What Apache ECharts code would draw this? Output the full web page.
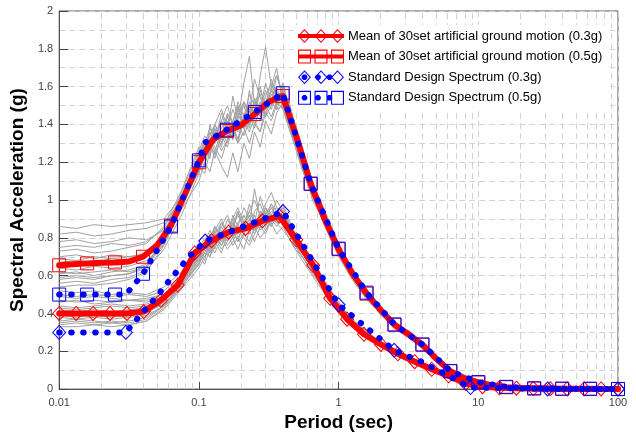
<!DOCTYPE html>
<html>
<head>
<meta charset="utf-8">
<script src="https://cdn.jsdelivr.net/npm/echarts@6/dist/echarts.min.js"></script>
<style>
  html, body { margin: 0; padding: 0; background: #fff; }
  #chart { width: 636px; height: 437px; }
</style>
</head>
<body>
<div id="chart"></div>
<script>
// Periods (sec) at which each artificial record's response spectrum is sampled
const recordPeriods = [0.01, 0.0133, 0.0178, 0.0237, 0.0316, 0.0422, 0.0562, 0.075,
  0.1, 0.11, 0.12, 0.13, 0.145, 0.16, 0.175, 0.19, 0.21, 0.23, 0.25, 0.275, 0.3, 0.33, 0.36, 0.4, 0.44, 0.49, 0.55,
  0.65, 0.8, 1.0, 1.25, 1.6, 2.0, 2.5, 3.2, 4.0, 5.0, 6.3, 8.0, 10, 20, 100];

// Spectral acceleration (g) of individual records scaled to 0.5g
const records05 = [
  [0.86,0.85,0.87,0.86,0.87,0.88,0.90,1.02, 1.20,1.28,1.24,1.36,1.30,1.42,1.35,1.48,1.40,1.52,1.44,1.58,1.50,1.64,1.55,1.58,1.45,1.34,1.22, 1.05,0.92,0.76,0.62,0.52,0.43,0.35,0.30,0.24,0.17,0.10,0.06,0.035,0.009,0.002],
  [0.82,0.83,0.81,0.82,0.84,0.85,0.88,1.00, 1.16,1.24,1.30,1.22,1.34,1.28,1.40,1.32,1.46,1.38,1.54,1.48,1.62,1.52,1.60,1.48,1.38,1.28,1.16, 1.02,0.88,0.74,0.60,0.50,0.41,0.34,0.28,0.23,0.16,0.09,0.055,0.03,0.008,0.002],
  [0.78,0.79,0.77,0.78,0.80,0.79,0.84,0.98, 1.15,1.30,1.22,1.38,1.28,1.45,1.33,1.50,1.38,1.58,1.42,1.66,1.81,1.60,1.70,1.52,1.40,1.30,1.18, 1.10,0.88,0.78,0.60,0.53,0.40,0.36,0.28,0.25,0.15,0.09,0.055,0.03,0.008,0.002],
  [0.75,0.76,0.75,0.77,0.76,0.78,0.85,1.02, 1.24,1.30,1.26,1.40,1.48,1.38,1.32,1.44,1.52,1.46,1.64,1.54,1.48,1.58,1.66,1.56,1.46,1.34,1.22, 1.06,0.90,0.75,0.62,0.51,0.42,0.35,0.29,0.23,0.16,0.10,0.06,0.035,0.009,0.002],
  [0.73,0.74,0.72,0.73,0.75,0.77,0.86,1.05, 1.28,1.22,1.40,1.30,1.46,1.36,1.55,1.42,1.62,1.76,1.50,1.60,1.48,1.56,1.50,1.60,1.50,1.38,1.26, 1.06,0.90,0.72,0.64,0.49,0.44,0.33,0.31,0.22,0.16,0.10,0.06,0.035,0.008,0.002],
  [0.70,0.71,0.69,0.71,0.70,0.72,0.78,0.95, 1.10,1.20,1.15,1.26,1.18,1.12,1.25,1.15,1.30,1.22,1.36,1.28,1.42,1.35,1.46,1.52,1.40,1.28,1.16, 1.02,0.86,0.70,0.58,0.47,0.40,0.32,0.27,0.21,0.15,0.09,0.055,0.03,0.008,0.002],
  [0.69,0.68,0.70,0.69,0.70,0.71,0.79,0.97, 1.16,1.22,1.32,1.28,1.22,1.32,1.40,1.30,1.36,1.48,1.42,1.36,1.50,1.44,1.52,1.48,1.40,1.30,1.20, 1.04,0.88,0.73,0.60,0.49,0.41,0.34,0.28,0.22,0.155,0.09,0.055,0.03,0.008,0.002],
  [0.67,0.68,0.67,0.69,0.68,0.70,0.80,1.00, 1.24,1.32,1.28,1.35,1.42,1.34,1.40,1.46,1.38,1.44,1.52,1.46,1.55,1.62,1.54,1.58,1.48,1.36,1.24, 1.08,0.92,0.75,0.63,0.50,0.41,0.35,0.29,0.23,0.16,0.10,0.06,0.035,0.009,0.002],
  [0.64,0.63,0.65,0.64,0.65,0.68,0.76,0.96, 1.18,1.26,1.36,1.30,1.38,1.44,1.36,1.30,1.44,1.50,1.40,1.48,1.58,1.50,1.66,1.54,1.44,1.32,1.20, 1.04,0.86,0.72,0.60,0.48,0.41,0.33,0.28,0.22,0.15,0.09,0.055,0.03,0.008,0.002],
  [0.62,0.61,0.62,0.63,0.62,0.65,0.77,0.99, 1.22,1.30,1.38,1.32,1.42,1.50,1.40,1.52,1.44,1.56,1.50,1.44,1.52,1.58,1.50,1.62,1.50,1.38,1.26, 1.08,0.92,0.76,0.62,0.51,0.43,0.35,0.30,0.24,0.165,0.10,0.06,0.035,0.009,0.002],
  [0.61,0.62,0.60,0.62,0.63,0.66,0.78,1.00, 1.22,1.18,1.30,1.40,1.32,1.38,1.48,1.40,1.34,1.42,1.48,1.56,1.46,1.52,1.48,1.56,1.52,1.40,1.28, 1.10,0.94,0.77,0.61,0.51,0.43,0.35,0.30,0.24,0.17,0.10,0.06,0.035,0.009,0.002],
  [0.59,0.60,0.59,0.60,0.61,0.64,0.79,1.01, 1.18,1.14,1.26,1.34,1.26,1.32,1.38,1.32,1.42,1.36,1.44,1.52,1.44,1.50,1.56,1.52,1.44,1.32,1.20, 1.04,0.89,0.74,0.61,0.50,0.42,0.34,0.29,0.23,0.16,0.095,0.058,0.033,0.008,0.002],
  [0.58,0.59,0.58,0.60,0.61,0.65,0.82,1.04, 1.26,1.34,1.30,1.24,1.34,1.40,1.32,1.44,1.50,1.40,1.46,1.42,1.52,1.48,1.58,1.50,1.42,1.30,1.18, 1.00,0.87,0.73,0.59,0.49,0.39,0.34,0.28,0.23,0.16,0.09,0.055,0.03,0.008,0.002],
  [0.56,0.57,0.56,0.58,0.59,0.63,0.74,0.92, 1.14,1.24,1.32,1.26,1.36,1.30,1.42,1.50,1.38,1.30,1.40,1.36,1.46,1.42,1.50,1.56,1.46,1.34,1.22, 1.06,0.90,0.74,0.62,0.50,0.42,0.34,0.29,0.23,0.16,0.10,0.06,0.035,0.009,0.002],
  [0.54,0.55,0.55,0.56,0.58,0.62,0.76,0.98, 1.20,1.28,1.34,1.40,1.34,1.46,1.40,1.36,1.52,1.44,1.38,1.50,1.44,1.60,1.48,1.50,1.46,1.36,1.26, 1.08,0.91,0.73,0.61,0.51,0.42,0.36,0.29,0.24,0.16,0.10,0.06,0.035,0.009,0.002]
];

// Spectral acceleration (g) of individual records scaled to 0.3g
const records03 = [
  [0.52,0.51,0.52,0.50,0.51,0.50,0.54,0.62, 0.74,0.80,0.76,0.86,0.80,0.90,0.84,0.94,0.86,0.98,0.88,1.02,0.92,0.98,0.94,0.96,0.88,0.80,0.74, 0.66,0.55,0.44,0.37,0.30,0.25,0.205,0.17,0.14,0.105,0.07,0.035,0.016,0.006,0.002],
  [0.50,0.49,0.50,0.49,0.50,0.49,0.52,0.60, 0.70,0.76,0.82,0.78,0.88,0.82,0.90,0.96,0.88,0.94,1.00,0.92,0.98,1.04,0.96,0.94,0.88,0.80,0.74, 0.66,0.55,0.45,0.36,0.30,0.25,0.20,0.17,0.14,0.105,0.07,0.034,0.016,0.006,0.002],
  [0.49,0.48,0.49,0.48,0.47,0.48,0.50,0.60, 0.72,0.68,0.80,0.74,0.84,0.78,0.88,0.82,0.92,0.86,1.06,0.90,0.96,0.92,1.00,0.94,0.86,0.78,0.72, 0.65,0.56,0.46,0.36,0.31,0.24,0.20,0.16,0.135,0.10,0.065,0.03,0.015,0.006,0.002],
  [0.47,0.46,0.47,0.46,0.47,0.47,0.50,0.59, 0.72,0.78,0.74,0.80,0.76,0.84,0.80,0.86,0.82,0.88,0.84,0.90,0.86,0.92,0.88,0.92,0.86,0.78,0.72, 0.64,0.54,0.44,0.35,0.29,0.24,0.20,0.165,0.135,0.10,0.066,0.033,0.015,0.006,0.002],
  [0.46,0.47,0.45,0.46,0.47,0.46,0.49,0.58, 0.70,0.78,0.84,0.78,0.72,0.82,0.76,0.80,0.74,0.84,0.78,0.86,0.82,0.90,0.86,0.92,0.84,0.76,0.70, 0.62,0.52,0.42,0.34,0.28,0.24,0.19,0.16,0.13,0.10,0.065,0.032,0.015,0.006,0.002],
  [0.44,0.43,0.44,0.45,0.44,0.45,0.48,0.57, 0.68,0.74,0.70,0.80,0.86,0.80,0.92,0.86,0.96,0.90,0.84,0.94,0.88,0.98,0.90,0.94,0.88,0.82,0.76, 0.67,0.56,0.45,0.36,0.29,0.25,0.20,0.17,0.14,0.10,0.07,0.035,0.016,0.006,0.002],
  [0.43,0.42,0.43,0.44,0.43,0.44,0.48,0.58, 0.71,0.66,0.74,0.80,0.74,0.78,0.84,0.78,0.82,0.88,0.82,0.90,0.96,0.88,0.92,0.88,0.82,0.76,0.70, 0.61,0.52,0.42,0.34,0.28,0.23,0.19,0.16,0.13,0.097,0.063,0.031,0.014,0.005,0.002],
  [0.42,0.41,0.42,0.41,0.42,0.43,0.47,0.56, 0.66,0.72,0.78,0.84,0.76,0.82,0.88,0.80,0.86,0.92,0.84,0.88,0.94,0.86,0.92,0.88,0.82,0.76,0.72, 0.63,0.53,0.43,0.35,0.29,0.23,0.19,0.16,0.135,0.10,0.068,0.034,0.016,0.006,0.002],
  [0.40,0.39,0.40,0.39,0.40,0.41,0.45,0.55, 0.70,0.76,0.82,0.76,0.86,0.92,0.84,0.78,0.88,0.82,0.94,0.98,0.90,0.94,0.96,0.90,0.84,0.78,0.74, 0.64,0.53,0.44,0.34,0.28,0.24,0.20,0.165,0.14,0.105,0.07,0.034,0.016,0.006,0.002],
  [0.39,0.38,0.39,0.38,0.39,0.40,0.46,0.57, 0.69,0.78,0.72,0.84,0.90,0.82,0.86,0.94,0.84,0.90,0.86,0.94,0.90,0.86,0.92,0.96,0.88,0.80,0.75, 0.66,0.55,0.45,0.36,0.29,0.245,0.20,0.17,0.14,0.105,0.07,0.035,0.016,0.006,0.002],
  [0.38,0.37,0.38,0.37,0.38,0.39,0.44,0.56, 0.72,0.70,0.76,0.72,0.80,0.74,0.78,0.84,0.80,0.76,0.82,0.88,0.84,0.90,0.88,0.84,0.80,0.74,0.68, 0.60,0.50,0.41,0.33,0.27,0.23,0.19,0.155,0.13,0.095,0.06,0.03,0.014,0.005,0.002],
  [0.36,0.37,0.36,0.35,0.36,0.38,0.44,0.55, 0.68,0.76,0.72,0.82,0.78,0.86,0.90,0.82,0.88,0.84,0.92,0.86,0.96,0.90,0.94,0.98,0.90,0.82,0.76, 0.68,0.57,0.46,0.37,0.30,0.25,0.21,0.17,0.14,0.11,0.072,0.036,0.017,0.006,0.002],
  [0.35,0.36,0.35,0.36,0.35,0.37,0.44,0.54, 0.67,0.72,0.70,0.76,0.82,0.76,0.80,0.74,0.82,0.78,0.86,0.80,0.84,0.88,0.82,0.86,0.80,0.74,0.70, 0.62,0.52,0.42,0.34,0.28,0.23,0.19,0.16,0.13,0.095,0.062,0.03,0.014,0.005,0.002],
  [0.34,0.35,0.34,0.35,0.34,0.36,0.43,0.54, 0.66,0.74,0.80,0.86,0.80,0.84,0.80,0.88,0.92,0.86,0.90,0.84,0.90,0.96,0.90,0.92,0.86,0.80,0.74, 0.65,0.54,0.44,0.35,0.29,0.24,0.20,0.165,0.135,0.10,0.066,0.033,0.015,0.006,0.002],
  [0.33,0.33,0.34,0.33,0.34,0.36,0.42,0.53, 0.64,0.70,0.76,0.82,0.88,0.82,0.86,0.92,0.86,0.94,0.88,0.92,0.86,0.92,0.88,0.90,0.84,0.76,0.70, 0.62,0.52,0.42,0.34,0.28,0.23,0.19,0.16,0.13,0.095,0.062,0.03,0.014,0.005,0.002]
];

// Mean spectrum of the 30 records (0.3g)
const mean03Periods = [0.01,0.01322,0.01748,0.0231,0.03054,0.04037,0.05337,0.07055,0.09326,0.1233,0.163,0.2154,0.2848,0.3765,0.4977,0.6579,0.8697,1.15,1.52,2.009,2.656,3.511,4.642,6.136,8.111,10.72,14.17,18.74,24.77,32.75,43.29,57.22,75.65,100];
const mean03 = [0.40,0.40,0.40,0.40,0.40,0.41,0.47,0.55,0.72,0.785,0.83,0.85,0.89,0.915,0.79,0.655,0.48,0.37,0.29,0.236,0.187,0.145,0.105,0.07,0.03,0.013,0.007,0.005,0.003,0.002,0.001,0.001,0.001,0.001];

// Mean spectrum of the 30 records (0.5g); markers on every other point
const mean05Periods = [0.01,0.01259,0.01585,0.01995,0.02512,0.03162,0.03981,0.05012,0.0631,0.07943,0.1,0.1259,0.1585,0.1995,0.2512,0.3162,0.3981,0.5012,0.631,0.7943,1,1.259,1.585,1.995,2.512,3.162,3.981,5.012,6.31,7.943,10,12.59,15.85,19.95,25.12,31.62,39.81,50.12,63.1,79.43,100];
const mean05 = [0.655,0.66,0.665,0.668,0.67,0.675,0.70,0.76,0.865,1.03,1.20,1.32,1.365,1.395,1.455,1.52,1.55,1.33,1.085,0.90,0.74,0.61,0.505,0.42,0.34,0.29,0.235,0.16,0.095,0.058,0.035,0.02,0.01,0.006,0.004,0.003,0.002,0.002,0.002,0.001,0.001];

// Standard design spectra
const design03Periods = [0.01,0.03,0.04,0.05,0.06,0.07,0.085,0.1,0.111,0.4,1.0,2.5,4.0,6.3,8.8,31.3,100];
const design03 = [0.3,0.3,0.41,0.49,0.565,0.625,0.70,0.75,0.783,0.939,0.446,0.205,0.142,0.065,0.008,0.001,0];
const design03Marked = [1,1,0,0,0,0,0,0,1,1,1,1,0,0,1,1,1];

const design05Periods = [0.01,0.01585,0.02512,0.03,0.03981,0.0631,0.1,0.111,0.1585,0.2512,0.3981,0.631,1.0,1.585,2.512,3.981,6.31,10,15.85,25.12,39.81,63.1,100];
const design05 = [0.5,0.5,0.5,0.5,0.61,0.86,1.21,1.305,1.372,1.466,1.565,1.087,0.743,0.51,0.342,0.236,0.095,0.037,0.012,0.004,0.002,0.001,0];
const design05Marked = [1,1,1,0,1,1,1,0,1,1,1,1,1,1,1,1,1,1,1,1,1,1,1];

// Axis tick labels
const xTickLabels = ['0.01', '0.1', '1', '10', '100'];

const seriesNames = [
  'Mean of 30set artificial ground motion (0.3g)',
  'Mean of 30set artificial ground motion (0.5g)',
  'Standard Design Spectrum (0.3g)',
  'Standard Design Spectrum (0.5g)'
];

const RED = '#ff0000';
const BLUE = '#0000ff';
const GRAY = '#a2a2a2';
const GRID = '#d2d2d2';

// ---- legend icons: thick/dotted line with hollow markers (nonzero fill rule) ----
function diamond(cx, cy, hw, hh, ccw) {
  return ccw
    ? `M${cx - hw} ${cy}L${cx} ${cy + hh}L${cx + hw} ${cy}L${cx} ${cy - hh}Z`
    : `M${cx - hw} ${cy}L${cx} ${cy - hh}L${cx + hw} ${cy}L${cx} ${cy + hh}Z`;
}
function rect(x0, y0, x1, y1, ccw) {
  return ccw
    ? `M${x0} ${y0}L${x0} ${y1}L${x1} ${y1}L${x1} ${y0}Z`
    : `M${x0} ${y0}L${x1} ${y0}L${x1} ${y1}L${x0} ${y1}Z`;
}
function dot(cx, cy, r) {
  const k = r * 0.414;
  return `M${cx - k} ${cy - r}L${cx + k} ${cy - r}L${cx + r} ${cy - k}L${cx + r} ${cy + k}` +
         `L${cx + k} ${cy + r}L${cx - k} ${cy + r}L${cx - r} ${cy + k}L${cx - r} ${cy - k}Z`;
}
const iconCenters = [6.5, 23, 39.5];
const iconDots = [6.5, 20, 31.5];
function diamondRings() {
  return iconCenters.map(c => diamond(c, 7, 6.5, 7, false) + diamond(c, 7, 5.1, 5.5, true)).join('');
}
function squareRings() {
  return iconCenters.map(c => rect(c - 6.5, 0, c + 6.5, 14, false) + rect(c - 5.4, 1.1, c + 5.4, 12.9, true)).join('');
}
const iconMean03 = 'path://' + rect(0, 5, 46, 9, false) + diamondRings();
const iconMean05 = 'path://' + rect(0, 5, 46, 9, false) + squareRings();
const iconDesign03 = 'path://' + diamondRings() + iconDots.map(x => dot(x, 7, 2.8)).join('');
const iconDesign05 = 'path://' + squareRings() + iconDots.map(x => dot(x, 7, 2.8)).join('');

// Minor vertical grid lines at 2..9 of each decade
const minorGridX = [];
[0.01, 0.1, 1, 10].forEach(d => { for (let m = 2; m <= 9; m++) minorGridX.push({ xAxis: +(d * m).toPrecision(3) }); });

function pairs(xs, ys) { return xs.map((x, i) => [x, ys[i]]); }
function markedPairs(xs, ys, flags, symbol) {
  return xs.map((x, i) => ({ value: [x, ys[i]], symbol: flags[i] ? symbol : 'none' }));
}

const series = [];

// helper series carrying the minor vertical dashed grid lines
series.push({
  type: 'line', name: 'grid', data: [], silent: true, z: 1,
  markLine: {
    z: 1, silent: true, symbol: ['none', 'none'], animation: false,
    label: { show: false },
    lineStyle: { color: GRID, type: [6, 4], width: 1 },
    emphasis: { disabled: true },
    data: minorGridX
  }
});

records05.concat(records03).forEach((rec, i) => {
  series.push({
    type: 'line', name: 'record' + i, data: pairs(recordPeriods, rec),
    showSymbol: false, symbol: 'none', silent: true, clip: false,
    lineStyle: { color: GRAY, width: 1 }, z: 2
  });
});

series.push({
  type: 'line', name: seriesNames[0], data: pairs(mean03Periods, mean03),
  symbol: 'diamond', symbolSize: [13, 14], showAllSymbol: true, clip: false,
  lineStyle: { color: RED, width: 6, cap: 'round', join: 'round' },
  itemStyle: { color: 'rgba(0,0,0,0)', borderColor: RED, borderWidth: 1 },
  z: 3
});
series.push({
  type: 'line', name: seriesNames[1],
  data: pairs(mean05Periods, mean05),
  symbol: (v, p) => (p.dataIndex % 2 === 0 ? 'rect' : 'none'),
  symbolSize: 13, showAllSymbol: true, clip: false,
  lineStyle: { color: RED, width: 6, cap: 'round', join: 'round' },
  itemStyle: { color: 'rgba(0,0,0,0)', borderColor: RED, borderWidth: 1 },
  z: 3
});
series.push({
  type: 'line', name: seriesNames[2],
  data: markedPairs(design03Periods, design03, design03Marked, 'diamond'),
  symbolSize: [13, 14], showAllSymbol: true, clip: false,
  lineStyle: { color: BLUE, width: 6, type: [0.5, 11.5], cap: 'round', join: 'round' },
  itemStyle: { color: 'rgba(0,0,0,0)', borderColor: BLUE, borderWidth: 1 },
  z: 4
});
series.push({
  type: 'line', name: seriesNames[3],
  data: markedPairs(design05Periods, design05, design05Marked, 'rect'),
  symbolSize: 13, showAllSymbol: true, clip: false,
  lineStyle: { color: BLUE, width: 6, type: [0.5, 11.5], cap: 'round', join: 'round' },
  itemStyle: { color: 'rgba(0,0,0,0)', borderColor: BLUE, borderWidth: 1 },
  z: 4
});

const chart = echarts.init(document.getElementById('chart'), null, { renderer: 'canvas' });
chart.setOption({
  animation: false,
  backgroundColor: '#fff',
  textStyle: { fontFamily: '"Liberation Sans", Arial, sans-serif' },
  grid: { left: 54, right: 18, top: 11, bottom: 45, show: true, borderColor: '#555', borderWidth: 1, containLabel: false },
  legend: {
    orient: 'vertical', left: 293, top: 25,
    padding: [4, 8, 4, 5], backgroundColor: '#fff',
    itemWidth: 46, itemHeight: 14, itemGap: 6.6, symbolKeepAspect: false,
    selectedMode: false,
    textStyle: { fontSize: 13, color: '#000', fontFamily: '"Liberation Sans", Arial, sans-serif', padding: [0, 0, 0, -1] },
    itemStyle: { borderWidth: 0 },
    data: [
      { name: seriesNames[0], icon: iconMean03, itemStyle: { color: RED, borderWidth: 0 } },
      { name: seriesNames[1], icon: iconMean05, itemStyle: { color: RED, borderWidth: 0 } },
      { name: seriesNames[2], icon: iconDesign03, itemStyle: { color: BLUE, borderWidth: 0 } },
      { name: seriesNames[3], icon: iconDesign05, itemStyle: { color: BLUE, borderWidth: 0 } }
    ]
  },
  xAxis: {
    type: 'log', logBase: 10, min: 0.01, max: 100,
    name: 'Period (sec)', nameLocation: 'middle', nameGap: 19,
    nameTextStyle: { fontSize: 19, fontWeight: 'bold', color: '#000' },
    axisLine: { show: true, lineStyle: { color: '#555', width: 1 } },
    axisTick: { show: true, inside: true, length: 7, lineStyle: { color: '#444' } },
    axisLabel: {
      fontSize: 11, color: '#444', margin: 8,
      formatter: v => xTickLabels.find(t => Math.abs(parseFloat(t) - v) < v * 1e-6) || ''
    },
    splitLine: { show: true, lineStyle: { color: GRID, type: [6, 4], width: 1 } },
    minorTick: { show: false },
    minorSplitLine: { show: false }
  },
  yAxis: {
    type: 'value', min: 0, max: 2, interval: 0.2,
    name: 'Spectral Acceleration (g)', nameLocation: 'middle', nameGap: 21,
    nameTextStyle: { fontSize: 19, fontWeight: 'bold', color: '#000' },
    axisLine: { show: true, lineStyle: { color: '#555', width: 1 } },
    axisTick: { show: true, inside: true, length: 9, lineStyle: { color: '#444' } },
    axisLabel: { fontSize: 11, color: '#444', margin: 6 },
    splitLine: { show: true, lineStyle: { color: GRID, type: [6, 4], width: 1 } },
    minorTick: { show: false, splitNumber: 2 },
    minorSplitLine: { show: true, lineStyle: { color: GRID, type: [6, 4], width: 1 } }
  },
  series: series
});
</script>
</body>
</html>
